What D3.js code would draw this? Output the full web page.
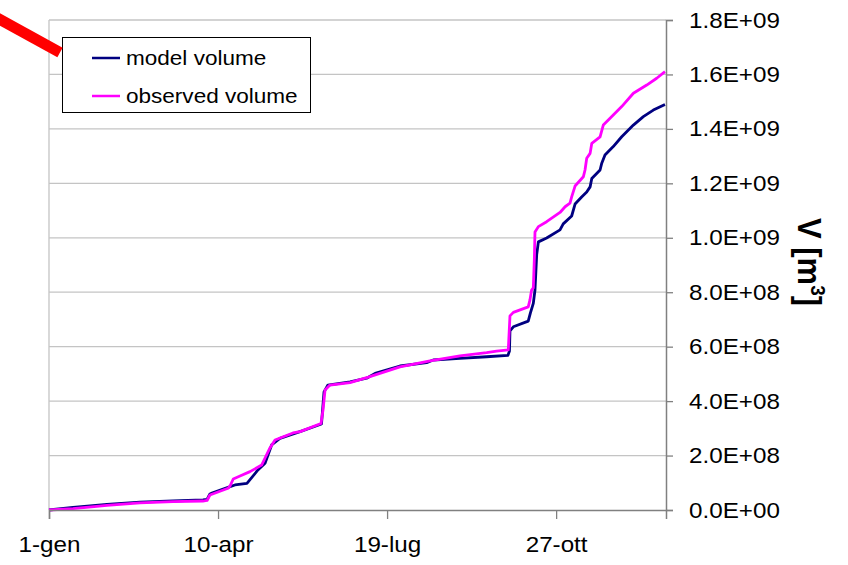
<!DOCTYPE html>
<html><head><meta charset="utf-8">
<script src="https://cdn.jsdelivr.net/npm/d3@7/dist/d3.min.js"></script>
<style>
body{margin:0;background:#fff}
text{font-family:"Liberation Sans",Arial,sans-serif}
</style>
</head><body>
<svg id="c" width="848" height="565"></svg>
<script>
// day of year (0 = 1-gen) and volume in units of 1e8 m3
const modelDays = [0,14.2,34.3,53.8,73.4,91.1,93.5,95.2,96.4,105.9,110.0,117.1,123.6,127.8,131.7,136.6,148.5,161.2,162.7,165.0,178.1,187.9,192.9,207.6,223.4,227.3,243.1,258.9,271.5,272.4,272.7,274.7,283.5,284.8,286.5,287.5,288.5,289.5,294.4,302.3,304.2,309.2,311.2,315.1,318.1,320.1,321.1,326.0,327.0,328.9,333.8,338.8,345.7,351.6,357.5,364.4];
const modelVolume = [0,0.10,0.21,0.29,0.33,0.37,0.39,0.59,0.62,0.83,0.92,0.98,1.47,1.72,2.39,2.63,2.88,3.16,4.34,4.59,4.71,4.84,5.02,5.29,5.41,5.51,5.57,5.63,5.68,5.84,6.58,6.73,6.94,7.24,7.59,8.08,9.37,9.85,9.99,10.29,10.51,10.80,11.24,11.50,11.68,11.87,12.18,12.49,12.74,13.04,13.35,13.71,14.14,14.45,14.69,14.90];
const observedDays = [0,14.2,34.3,53.8,73.4,91.1,93.5,95.2,105.9,107.1,109.0,113.0,118.9,125.8,127.8,130.7,133.7,144.3,148.5,160.9,162.1,163.3,166.2,178.1,188.9,207.6,225.4,243.1,258.9,264.8,271.7,272.7,274.7,283.5,284.5,285.5,286.5,287.1,287.5,289.5,294.4,302.3,305.3,308.2,309.2,311.2,316.1,317.1,318.1,320.1,321.1,326.0,327.9,331.9,338.8,345.7,353.6,359.5,364.4];
const observedVolume = [0,0.05,0.17,0.26,0.31,0.33,0.35,0.55,0.80,0.88,1.14,1.25,1.41,1.65,1.91,2.28,2.57,2.83,2.88,3.18,3.67,4.41,4.59,4.68,4.88,5.26,5.48,5.66,5.78,5.84,5.88,7.13,7.26,7.46,7.71,8.08,8.16,9.18,10.21,10.41,10.59,10.93,11.14,11.27,11.50,11.90,12.24,12.49,12.92,13.10,13.47,13.71,14.14,14.39,14.82,15.31,15.61,15.86,16.10];
const seriesNames = ["model volume","observed volume"];
const seriesColors = ["#000080","#ff00ff"];
const xTickDays = [0,100,200,300];
const xTickLabels = ["1-gen","10-apr","19-lug","27-ott"];
const yTickValues = [0,2,4,6,8,10,12,14,16,18];
const yTickLabels = ["0.0E+00","2.0E+08","4.0E+08","6.0E+08","8.0E+08","1.0E+09","1.2E+09","1.4E+09","1.6E+09","1.8E+09"];

const L=49, R=666, T=20, B=510;
const svg = d3.select("#c");
const x = d3.scaleLinear().domain([0,365]).range([L,R]);
const y = d3.scaleLinear().domain([0,18]).range([B,T]);

// gridlines
svg.append("g").selectAll("line").data(yTickValues.filter(v=>v>0)).join("line")
  .attr("x1",L).attr("x2",R).attr("y1",d=>y(d)).attr("y2",d=>y(d))
  .attr("stroke","#c4c4c4").attr("stroke-width",1.3);
// left border
svg.append("line").attr("x1",L).attr("x2",L).attr("y1",T).attr("y2",B)
  .attr("stroke","#c4c4c4").attr("stroke-width",1.3);

// lines
const series = [
  {days:modelDays, vals:modelVolume},
  {days:observedDays, vals:observedVolume}
];
const line = d3.line().x(d=>x(d[0])).y(d=>y(d[1]));
series.forEach((s,i)=>{
  svg.append("path").datum(s.days.map((d,j)=>[d,s.vals[j]]))
    .attr("d",line).attr("fill","none").attr("stroke",seriesColors[i])
    .attr("stroke-width",2.8).attr("stroke-linejoin","round");
});

// right axis
const ya = svg.append("g").attr("transform",`translate(${R},0)`)
  .call(d3.axisRight(y).tickValues(yTickValues).tickFormat((d,i)=>yTickLabels[i]).tickSize(7).tickPadding(16));
ya.select(".domain").attr("stroke","#808080").attr("stroke-width",1.5);
ya.selectAll(".tick line").attr("stroke","#808080").attr("stroke-width",1.3);
ya.selectAll(".tick text").attr("font-size",22).attr("fill","#000")
  .attr("font-family","'Liberation Sans',Arial,sans-serif")
  .attr("transform","scale(1.1,1)").attr("x",21);

// bottom axis
const xa = svg.append("g").attr("transform",`translate(0,${B})`)
  .call(d3.axisBottom(x).tickValues(xTickDays).tickFormat((d,i)=>xTickLabels[i]).tickSize(9).tickPadding(17));
xa.select(".domain").attr("stroke","#808080").attr("stroke-width",1.5);
xa.selectAll(".tick line").attr("stroke","#808080").attr("stroke-width",1.3);
xa.selectAll(".tick text").attr("font-size",22).attr("fill","#000")
  .attr("font-family","'Liberation Sans',Arial,sans-serif")
  .attr("transform","scale(1.1,1)");

// axis title
const title = svg.append("text")
  .attr("transform","translate(798,262) scale(1.1,1) rotate(90)")
  .attr("text-anchor","middle").attr("font-size",31).attr("font-weight","bold");
title.append("tspan").text("V [m");
title.append("tspan").text("3").attr("font-size",19).attr("dy",-12);
title.append("tspan").text("]").attr("dy",12);

// legend
const lg = svg.append("g");
lg.append("rect").attr("x",62.5).attr("y",37.5).attr("width",248).attr("height",75)
  .attr("fill","#fff").attr("stroke","#000").attr("stroke-width",1);
seriesNames.forEach((n,i)=>{
  const yy = 58 + i*38;
  lg.append("line").attr("x1",92).attr("x2",120).attr("y1",yy).attr("y2",yy)
    .attr("stroke",seriesColors[i]).attr("stroke-width",2.5);
  lg.append("text").attr("transform",`translate(126,${yy+7}) scale(1.1,1)`)
    .attr("font-size",20.5).text(n);
});

// red pointer stroke
svg.append("line").attr("x1",-10).attr("y1",14).attr("x2",60).attr("y2",52.5)
  .attr("stroke","#ff0000").attr("stroke-width",11);
</script>
</body></html>
